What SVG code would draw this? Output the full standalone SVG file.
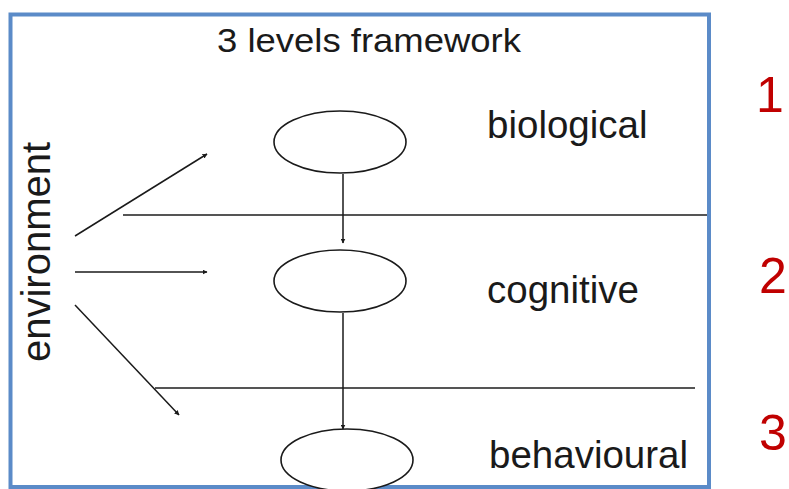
<svg xmlns="http://www.w3.org/2000/svg" width="789" height="489" viewBox="0 0 789 489">
<defs>
<style>
.frame{fill:none;stroke:#5b8bc8;stroke-width:4}
.node{fill:#fff;stroke:#1a1a1a;stroke-width:1.6}
.edge{stroke:#1a1a1a;stroke-width:1.5;fill:none}
.sep{stroke:#555;stroke-width:2.2;fill:none}
.lbl{font-family:"Liberation Sans",Arial,sans-serif;font-size:38.5px;fill:#1a1a1a}
.num{font-family:"Liberation Sans",Arial,sans-serif;font-size:50px;fill:#c00000}
.title{font-family:"Liberation Sans",Arial,sans-serif;font-size:33px;fill:#1a1a1a}
</style>
<marker id="ah" viewBox="0 0 10 10" refX="9" refY="5" markerWidth="5" markerHeight="5" markerUnits="userSpaceOnUse" orient="auto">
<path d="M0,0 L10,5 L0,10 z" fill="#1a1a1a"/>
</marker>
</defs>
<rect width="789" height="489" fill="#fff"/>
<rect class="frame" x="10.5" y="14.5" width="698.5" height="472.5"/>
<text class="title" x="217" y="52" textLength="304" lengthAdjust="spacingAndGlyphs">3 levels framework</text>
<g id="separators">
<line class="sep" x1="123" y1="215" x2="707" y2="215"/>
<line class="sep" x1="155" y1="388" x2="695" y2="388"/>
</g>
<g id="connectors">
<line class="edge" x1="343" y1="174" x2="343" y2="243" marker-end="url(#ah)"/>
<line class="edge" x1="343" y1="313" x2="343" y2="429" marker-end="url(#ah)"/>
<line class="edge" x1="75" y1="236" x2="207" y2="154" marker-end="url(#ah)"/>
<line class="edge" x1="75" y1="272" x2="207" y2="272" marker-end="url(#ah)"/>
<line class="edge" x1="75" y1="305" x2="179" y2="415" marker-end="url(#ah)"/>
</g>
<g id="biological">
<ellipse class="node" cx="340" cy="142" rx="66" ry="31"/>
<text class="lbl" x="487" y="138">biological</text>
</g>
<g id="cognitive">
<ellipse class="node" cx="340" cy="281" rx="66" ry="31"/>
<text class="lbl" x="487" y="303">cognitive</text>
</g>
<g id="behavioural">
<ellipse class="node" cx="347" cy="460" rx="66" ry="31"/>
<text class="lbl" x="489" y="468">behavioural</text>
</g>
<g id="environment">
<text class="lbl" style="font-size:40px" x="0" y="0" text-anchor="middle" transform="translate(50 252) rotate(-90)">environment</text>
</g>
<g id="levels">
<text class="num" x="756" y="112">1</text>
<text class="num" x="759" y="293">2</text>
<text class="num" x="759" y="450">3</text>
</g>
</svg>
